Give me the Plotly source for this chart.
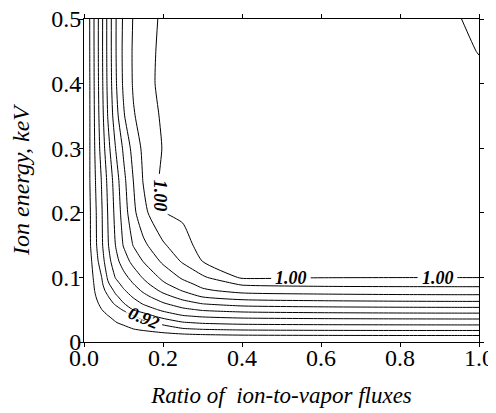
import plotly.graph_objects as go

# ---- data ----
x_ratio = [0, 0.015, 0.03, 0.045, 0.06, 0.08, 0.1, 0.125, 0.15, 0.2, 0.25, 0.3, 0.4, 0.6, 0.8, 0.95, 1.0]
y_energy = [0, 0.01, 0.02, 0.03, 0.04, 0.05, 0.06, 0.07, 0.08, 0.09, 0.1,
            0.125, 0.15, 0.2, 0.25, 0.3, 0.35, 0.4, 0.45, 0.5]

z_y000 = [0.890, 0.8905, 0.891, 0.8915, 0.892, 0.8925, 0.893, 0.8935, 0.894, 0.8945, 0.895, 0.8955, 0.896, 0.8965, 0.897, 0.897, 0.897]
z_y010 = [0.895, 0.8965, 0.898, 0.899, 0.8998, 0.9008, 0.9018, 0.903, 0.904, 0.9058, 0.9072, 0.9082, 0.9092, 0.9097, 0.9099, 0.9099, 0.9099]
z_y020 = [0.897, 0.8985, 0.9001, 0.9016, 0.9032, 0.9052, 0.9073, 0.9099, 0.9117, 0.9153, 0.9189, 0.9205, 0.9218, 0.9225, 0.9228, 0.9228, 0.9228]
z_y030 = [0.897, 0.8994, 0.9017, 0.9041, 0.9064, 0.9096, 0.9118, 0.9143, 0.9169, 0.9226, 0.9292, 0.9312, 0.9328, 0.9335, 0.9338, 0.934, 0.934]
z_y040 = [0.897, 0.9001, 0.9033, 0.9064, 0.9096, 0.9123, 0.9149, 0.9181, 0.9247, 0.9339, 0.939, 0.9412, 0.943, 0.944, 0.9445, 0.9447, 0.9447]
z_y050 = [0.897, 0.9013, 0.9056, 0.9099, 0.9128, 0.9166, 0.9209, 0.9307, 0.9347, 0.942, 0.9477, 0.9512, 0.9538, 0.9552, 0.9558, 0.956, 0.956]
z_y060 = [0.897, 0.9026, 0.9082, 0.9125, 0.9161, 0.9216, 0.9297, 0.9358, 0.9412, 0.9493, 0.9561, 0.9608, 0.9645, 0.966, 0.9668, 0.9671, 0.9671]
z_y070 = [0.897, 0.9035, 0.9099, 0.9145, 0.9191, 0.9279, 0.9343, 0.941, 0.9466, 0.9562, 0.9638, 0.9703, 0.9745, 0.9762, 0.977, 0.9772, 0.9772]
z_y080 = [0.897, 0.9046, 0.9115, 0.9166, 0.9232, 0.9328, 0.9389, 0.9455, 0.9519, 0.9627, 0.9709, 0.9785, 0.9838, 0.9852, 0.9857, 0.9859, 0.9859]
z_y090 = [0.897, 0.9052, 0.9125, 0.9184, 0.9284, 0.9365, 0.9429, 0.9499, 0.9567, 0.9682, 0.9768, 0.983, 0.9915, 0.993, 0.9932, 0.9932, 0.9932]
z_y100 = [0.897, 0.9059, 0.9135, 0.9201, 0.9312, 0.9406, 0.9466, 0.9539, 0.9609, 0.9726, 0.9816, 0.9884, 1.0015, 1.0004, 1.0002, 1.0002, 1.0002]
z_y125 = [0.897, 0.9074, 0.9162, 0.9258, 0.9359, 0.9464, 0.9548, 0.9633, 0.9703, 0.9819, 0.9912, 1.0001, 1.0015, 1.0015, 1.0015, 1.0015, 1.0015]
z_y150 = [0.897, 0.909, 0.9187, 0.9285, 0.9388, 0.9503, 0.9607, 0.9706, 0.9776, 0.9886, 0.9968, 1.003, 1.0025, 1.003, 1.003, 1.003, 1.003]
z_y200 = [0.897, 0.9092, 0.9193, 0.9293, 0.9401, 0.9529, 0.9644, 0.9775, 0.9869, 0.9998, 1.0015, 1.002, 1.0025, 1.003, 1.0035, 1.004, 1.0045]
z_y250 = [0.897, 0.9101, 0.9207, 0.9308, 0.942, 0.955, 0.9671, 0.9801, 0.9905, 1.0024, 1.0025, 1.0025, 1.003, 1.0035, 1.0045, 1.005, 1.0055]
z_y300 = [0.897, 0.9101, 0.9223, 0.9342, 0.9462, 0.9601, 0.9715, 0.9838, 0.992, 1.0005, 1.002, 1.0025, 1.003, 1.004, 1.005, 1.006, 1.0065]
z_y350 = [0.897, 0.9101, 0.9233, 0.9364, 0.9501, 0.9657, 0.9788, 0.9892, 0.9937, 1.0016, 1.0025, 1.003, 1.0035, 1.0045, 1.0055, 1.0068, 1.0075]
z_y400 = [0.897, 0.9102, 0.9239, 0.9376, 0.9518, 0.9685, 0.9817, 0.991, 0.9951, 1.0033, 1.0034, 1.0035, 1.004, 1.005, 1.006, 1.0075, 1.0085]
z_y450 = [0.897, 0.9104, 0.9242, 0.9381, 0.9523, 0.9692, 0.9823, 0.9912, 0.9951, 1.0028, 1.003, 1.0033, 1.004, 1.0055, 1.0068, 1.0088, 1.0102]
z_y500 = [0.897, 0.9105, 0.9243, 0.9379, 0.9523, 0.9692, 0.9816, 0.9906, 0.9944, 1.002, 1.0025, 1.003, 1.004, 1.0055, 1.007, 1.0098, 1.0115]

z_rows = [z_y000, z_y010, z_y020, z_y030, z_y040, z_y050, z_y060, z_y070, z_y080, z_y090,
          z_y100, z_y125, z_y150, z_y200, z_y250, z_y300, z_y350, z_y400, z_y450, z_y500]

level_start, level_end, level_step = 0.91, 1.0105, 0.01

x_ticks = [0, 0.2, 0.4, 0.6, 0.8, 1.0]
x_ticktext = ["0.0", "0.2", "0.4", "0.6", "0.8", "1.0"]
y_ticks = [0, 0.1, 0.2, 0.3, 0.4, 0.5]
y_ticktext = ["0", "0.1", "0.2", "0.3", "0.4", "0.5"]

# contour labels: text, x, y, angle
label_text = ["1.00", "1.00", "1.00", "0.92"]
label_x = [0.193, 0.524, 0.895, 0.152]
label_y = [0.226, 0.0995, 0.0995, 0.037]
label_angle = [90, 0, 0, 22]

SERIF = "Liberation Serif"

fig = go.Figure()
fig.add_trace(go.Contour(
    x=x_ratio, y=y_energy, z=z_rows,
    contours=dict(start=level_start, end=level_end, size=level_step,
                  coloring="lines", showlabels=False),
    colorscale=[[0, "#000000"], [1, "#000000"]],
    showscale=False,
    line=dict(width=1, smoothing=0.6),
    hoverinfo="skip",
))

# white masks to open gaps in lines under labels
shapes = [
    dict(type="rect", xref="x", yref="y", x0=0.181, x1=0.212, y0=0.191, y1=0.26,
         fillcolor="white", line=dict(width=0), layer="above"),
    dict(type="rect", xref="x", yref="y", x0=0.474, x1=0.574, y0=0.0955, y1=0.1035,
         fillcolor="white", line=dict(width=0), layer="above"),
    dict(type="rect", xref="x", yref="y", x0=0.845, x1=0.945, y0=0.0955, y1=0.1035,
         fillcolor="white", line=dict(width=0), layer="above"),
    dict(type="path", xref="x", yref="y",
         path="M 0.106 0.054 L 0.198 0.029 L 0.198 0.021 L 0.106 0.046 Z",
         fillcolor="white", line=dict(width=0), layer="above"),
]

annotations = []
for t, lx, ly, ang in zip(label_text, label_x, label_y, label_angle):
    annotations.append(dict(
        x=lx, y=ly, xref="x", yref="y", text="<b><i>" + t + "</i></b>",
        showarrow=False, textangle=ang,
        font=dict(family=SERIF, size=18, color="black"),
    ))

axis_common = dict(
    showline=True, linecolor="black", linewidth=1, mirror="ticks",
    ticks="outside", ticklen=4, tickwidth=1, tickcolor="black",
    showgrid=False, zeroline=False, automargin=False,
    ticklabeloverflow="allow",
    tickfont=dict(family=SERIF, size=24, color="black"),
)

fig.update_layout(
    width=488, height=405,
    margin=dict(l=76, r=17, t=11, b=71),
    paper_bgcolor="white", plot_bgcolor="white",
    font=dict(family=SERIF, color="black"),
    shapes=shapes, annotations=annotations,
    xaxis=dict(range=[0, 1], tickvals=x_ticks, ticktext=x_ticktext,
               ticklabelstandoff=-10,
               title=dict(text="<i>Ratio of \u00a0ion-to-vapor fluxes</i>",
                          font=dict(family=SERIF, size=23, color="black"), standoff=17),
               **axis_common),
    yaxis=dict(range=[0, 0.5], tickvals=y_ticks, ticktext=y_ticktext,
               ticklabelstandoff=-7,
               title=dict(text="<i>Ion energy, keV</i>",
                          font=dict(family=SERIF, size=24, color="black"), standoff=14),
               **axis_common),
    showlegend=False,
)

fig.write_html("out.html")
